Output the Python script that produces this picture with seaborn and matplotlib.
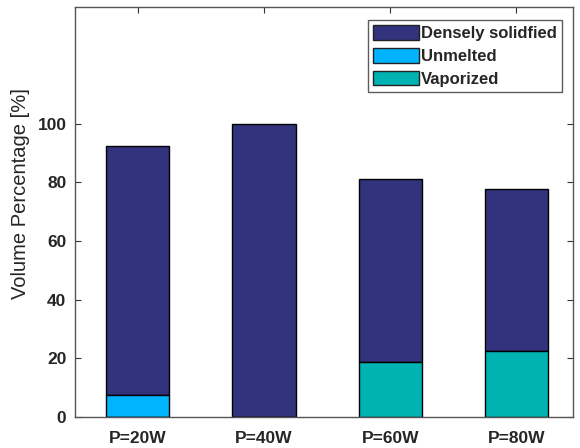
import matplotlib
matplotlib.use("Agg")
import matplotlib.pyplot as plt
import seaborn as sns
import pandas as pd

# Volume fractions per laser power
powers = ["P=20W", "P=40W", "P=60W", "P=80W"]
densely_solidified = [85.2, 100.0, 62.5, 55.1]
unmelted = [7.4, 0.0, 0.0, 0.0]
vaporized = [0.0, 0.0, 18.7, 22.5]

yticks = [0, 20, 40, 60, 80, 100]

sns.set_theme(style="white")
plt.rcParams["font.family"] = ["Liberation Sans", "DejaVu Sans"]

df = pd.DataFrame({
    "power": powers,
    "dense": densely_solidified,
    "unmelted": unmelted,
    "vaporized": vaporized,
})
df["base"] = df["unmelted"] + df["vaporized"]

c_dense = "#32327d"
c_unmelted = "#00b4ff"
c_vapor = "#00b3b3"

fig = plt.figure(figsize=(5.8, 4.48), dpi=100)
ax = fig.add_axes([0.129, 0.070, 0.859, 0.915])

common = dict(width=0.5, edgecolor="black", linewidth=1.0, ax=ax)
sns.barplot(data=df, x="power", y="dense", bottom=df["base"], color=c_dense,
            saturation=1, label="Densely solidfied", **common)
sns.barplot(data=df, x="power", y="unmelted", color=c_unmelted,
            saturation=1, label="Unmelted", **common)
sns.barplot(data=df, x="power", y="vaporized", color=c_vapor,
            saturation=1, label="Vaporized", **common)

ax.set_xlim(-0.5, 3.45)
ax.set_ylim(0, 140)
ax.set_yticks(yticks)
ax.set_yticklabels([str(v) for v in yticks], fontweight="bold", fontsize=12.5)
ax.set_xticks(range(len(powers)))
ax.set_xticklabels(powers, fontweight="bold", fontsize=12.5)
ax.set_xlabel("")
ax.set_ylabel("Volume Percentage [%]", fontsize=14.5, color="#262626")
ax.yaxis.set_label_coords(-0.090, 0.543)

for s in ax.spines.values():
    s.set_color("#555555")
    s.set_linewidth(1.0)
ax.tick_params(axis="both", which="both", direction="in", length=4, width=0.8,
               color="#333333", top=True, right=True, bottom=True, left=True,
               labelcolor="#262626")
ax.tick_params(axis="x", pad=10)
ax.tick_params(axis="y", pad=6)

leg = ax.legend(loc="upper right", bbox_to_anchor=(0.978, 0.968),
                prop={"weight": "bold", "size": 12}, frameon=True,
                fancybox=False, edgecolor="#333333", handlelength=2.75,
                handleheight=1.0, handletextpad=0.12, labelspacing=0.4,
                borderpad=0.3, borderaxespad=0.0)
leg.get_frame().set_linewidth(1.0)
for h in leg.legend_handles:
    h.set_edgecolor("#222222")

fig.savefig("out.png", dpi=100)
